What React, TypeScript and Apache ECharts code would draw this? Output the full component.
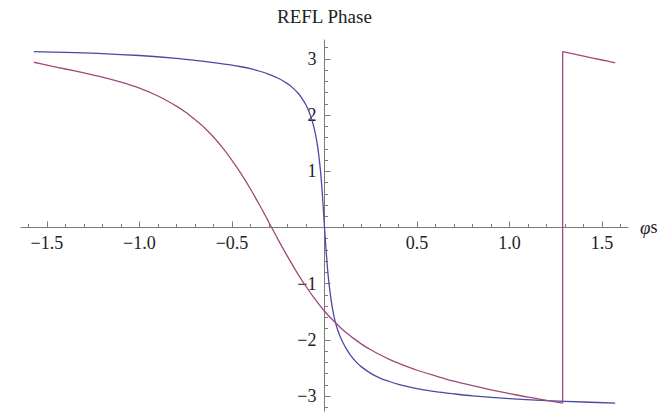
import React, { useEffect, useRef } from 'react';
import * as echarts from 'echarts';

const titleText = 'REFL Phase';
const xAxisName = '{i|φ}s';

const xLabelValues = [-1.5, -1.0, -0.5, 0.5, 1.0, 1.5];
const xMajorTicks = [-1.5, -1.0, -0.5, 0, 0.5, 1.0, 1.5];
const xMinorTicks = [
  -1.6, -1.4, -1.3, -1.2, -1.1, -0.9, -0.8, -0.7, -0.6, -0.4, -0.3, -0.2, -0.1,
  0.1, 0.2, 0.3, 0.4, 0.6, 0.7, 0.8, 0.9, 1.1, 1.2, 1.3, 1.4, 1.6,
];
const yLabelValues = [-3, -2, -1, 1, 2, 3];
const yMajorTicks = [-3, -2, -1, 0, 1, 2, 3];
const yMinorTicks = [
  -3.2, -2.8, -2.6, -2.4, -2.2, -1.8, -1.6, -1.4, -1.2, -0.8, -0.6, -0.4, -0.2,
  0.2, 0.4, 0.6, 0.8, 1.2, 1.4, 1.6, 1.8, 2.2, 2.4, 2.6, 2.8, 3.2,
];

// blue curve
const blueX = [
  -1.5708, -1.4, -1.2, -1.0, -0.8, -0.7, -0.6, -0.5, -0.45, -0.4,
  -0.35, -0.3, -0.25, -0.2, -0.17, -0.14, -0.12, -0.1, -0.08, -0.065,
  -0.05, -0.04, -0.03, -0.02, -0.01, 0, 0.01, 0.02, 0.03, 0.04,
  0.05, 0.06, 0.07, 0.08, 0.09, 0.1, 0.12, 0.14, 0.17, 0.2,
  0.25, 0.3, 0.35, 0.4, 0.45, 0.5, 0.6, 0.7, 0.8, 1.0,
  1.2, 1.4, 1.5708,
];
const blueY = [
  3.13, 3.115, 3.095, 3.06, 3.01, 2.975, 2.935, 2.89, 2.86, 2.825,
  2.78, 2.725, 2.655, 2.56, 2.48, 2.38, 2.29, 2.18, 2.03, 1.88,
  1.68, 1.5, 1.26, 0.95, 0.52, 0, -0.47, -0.86, -1.15, -1.38,
  -1.56, -1.7, -1.81, -1.9, -1.98, -2.05, -2.17, -2.27, -2.39, -2.48,
  -2.595, -2.68, -2.74, -2.79, -2.83, -2.865, -2.92, -2.96, -2.995, -3.045,
  -3.08, -3.105, -3.125,
];

// magenta curve, before the phase wrap
const magLeftX = [
  -1.5708, -1.5, -1.4, -1.3, -1.2, -1.1, -1.0, -0.9, -0.8, -0.75,
  -0.7, -0.65, -0.6, -0.55, -0.5, -0.45, -0.4, -0.35, -0.3, -0.25,
  -0.2, -0.15, -0.1, -0.05, 0, 0.05, 0.1, 0.15, 0.2, 0.25,
  0.3, 0.35, 0.4, 0.5, 0.6, 0.7, 0.8, 0.9, 1.0, 1.1,
  1.2, 1.287,
];
const magLeftY = [
  2.94, 2.89, 2.82, 2.75, 2.675, 2.585, 2.48, 2.34, 2.16, 2.05,
  1.92, 1.78, 1.61, 1.415, 1.195, 0.953, 0.685, 0.395, 0.09, -0.22,
  -0.515, -0.795, -1.05, -1.28, -1.49, -1.665, -1.825, -1.955, -2.075, -2.175,
  -2.265, -2.345, -2.415, -2.54, -2.64, -2.735, -2.815, -2.89, -2.955, -3.02,
  -3.075, -3.125,
];
// magenta curve, after the phase wrap
const magRightX = [1.287, 1.4, 1.5, 1.5708];
const magRightY = [3.13, 3.05, 2.98, 2.93];

const BLUE = '#4a49a3';
const MAGENTA = '#a0497a';
const AXIS = '#7a7a7a';
const FONT = "'Liberation Serif', 'Times New Roman', serif";

const zip = (xs: number[], ys: number[]) => xs.map((x, i) => [x, ys[i]]);
const minus = (s: string) => s.replace('-', '\u2212');

export default function App() {
  const ref = useRef<HTMLDivElement>(null);
  useEffect(() => {
    if (!ref.current) return;
    const chart = echarts.init(ref.current, null, { renderer: 'svg' });
    const xMin = -1.64;
    const xMax = 1.64;
    const yMin = -3.265;
    const yMax = 3.336;
    const gridLeft = 21;
    const gridRight = 34;
    const gridTop = 40;
    const gridBottom = 2;
    const gridW = 662 - gridLeft - gridRight;
    const gridH = 413 - gridTop - gridBottom;
    // place the axes where the other axis' value is zero
    const xAxisOffset = -((0 - yMin) / (yMax - yMin)) * gridH;
    const yAxisOffset = -((0 - xMin) / (xMax - xMin)) * gridW;
    const tickStyle = { color: AXIS, width: 1 };
    const lineCommon = {
      type: 'line' as const,
      showSymbol: false,
      symbol: 'none',
      smooth: 0.3,
      xAxisIndex: 0,
      yAxisIndex: 0,
    };
    const magLeft = zip(magLeftX, magLeftY);
    const magRight = zip(magRightX, magRightY);
    chart.setOption({
      animation: false,
      title: {
        text: titleText,
        left: 277,
        top: 7,
        padding: 0,
        textStyle: { fontFamily: FONT, fontSize: 19, fontWeight: 'normal', color: '#222' },
      },
      grid: {
        left: gridLeft,
        right: gridRight,
        top: gridTop,
        bottom: gridBottom,
        containLabel: false,
        outerBoundsMode: 'none',
      },
      xAxis: [
        {
          type: 'value',
          min: xMin,
          max: xMax,
          position: 'bottom',
          offset: xAxisOffset,
          name: xAxisName,
          nameLocation: 'end',
          nameGap: 12,
          nameTextStyle: {
            fontFamily: FONT,
            fontSize: 18,
            color: '#222',
            verticalAlign: 'middle',
            rich: { i: { fontFamily: FONT, fontSize: 19, fontStyle: 'italic', color: '#222' } },
          },
          axisLine: { show: true, onZero: false, lineStyle: tickStyle },
          axisTick: { show: true, inside: true, length: 6, customValues: xMajorTicks, lineStyle: tickStyle },
          axisLabel: {
            show: true,
            customValues: xLabelValues,
            formatter: (v: number) => minus(v.toFixed(1)),
            margin: 7,
            fontFamily: FONT,
            fontSize: 18,
            color: '#222',
          },
          splitLine: { show: false },
        },
        {
          type: 'value',
          min: xMin,
          max: xMax,
          position: 'bottom',
          offset: xAxisOffset,
          axisLine: { show: false, onZero: false },
          axisTick: { show: true, inside: true, length: 3.5, customValues: xMinorTicks, lineStyle: tickStyle },
          axisLabel: { show: false },
          splitLine: { show: false },
        },
      ],
      yAxis: [
        {
          type: 'value',
          min: yMin,
          max: yMax,
          position: 'left',
          offset: yAxisOffset,
          axisLine: { show: true, onZero: false, lineStyle: tickStyle },
          axisTick: { show: true, inside: true, length: 6, customValues: yMajorTicks, lineStyle: tickStyle },
          axisLabel: {
            show: true,
            customValues: yLabelValues,
            formatter: (v: number) => minus(String(v)),
            margin: 8,
            fontFamily: FONT,
            fontSize: 18,
            color: '#222',
          },
          splitLine: { show: false },
        },
        {
          type: 'value',
          min: yMin,
          max: yMax,
          position: 'left',
          offset: yAxisOffset,
          axisLine: { show: false, onZero: false },
          axisTick: { show: true, inside: true, length: 3.5, customValues: yMinorTicks, lineStyle: tickStyle },
          axisLabel: { show: false },
          splitLine: { show: false },
        },
      ],
      series: [
        { ...lineCommon, name: 'blue', data: zip(blueX, blueY), lineStyle: { width: 1.3, color: BLUE }, itemStyle: { color: BLUE } },
        { ...lineCommon, name: 'magenta', data: magLeft, lineStyle: { width: 1.3, color: MAGENTA }, itemStyle: { color: MAGENTA } },
        {
          ...lineCommon,
          name: 'magenta-jump',
          smooth: false,
          data: [magLeft[magLeft.length - 1], magRight[0]],
          lineStyle: { width: 1.3, color: MAGENTA },
          itemStyle: { color: MAGENTA },
        },
        { ...lineCommon, name: 'magenta-right', data: magRight, lineStyle: { width: 1.3, color: MAGENTA }, itemStyle: { color: MAGENTA } },
      ],
    });
    return () => chart.dispose();
  }, []);
  return (
    <div
      ref={ref}
      style={{ position: 'fixed', left: 0, top: 0, width: 662, height: 413, background: '#fff' }}
    />
  );
}
